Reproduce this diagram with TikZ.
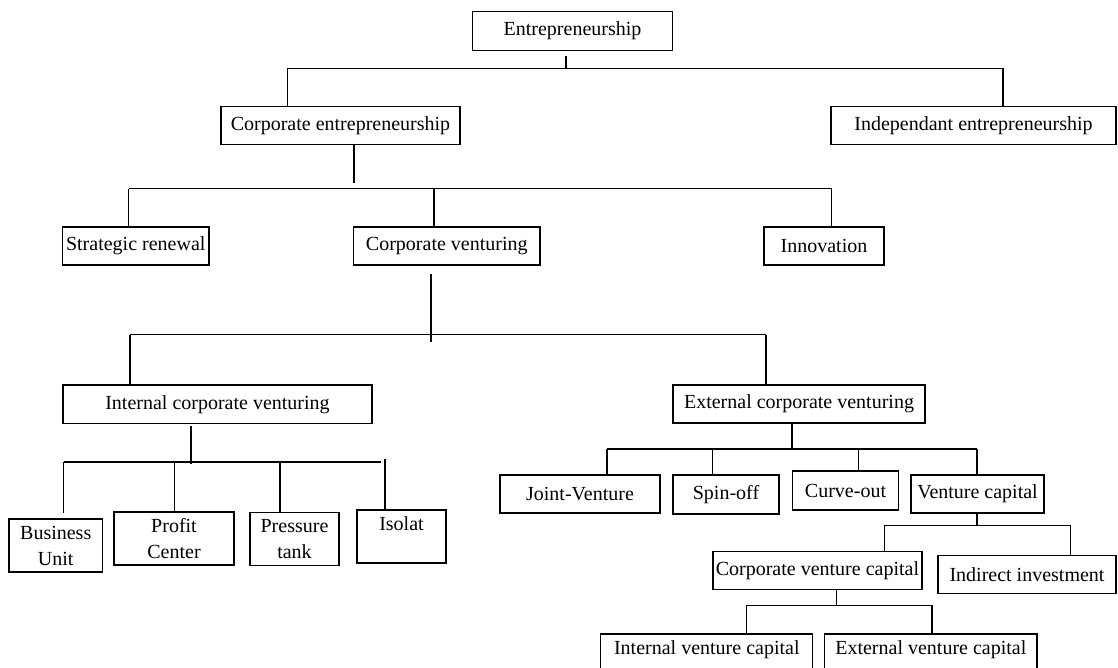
\documentclass[tikz,border=0pt]{standalone}
\usepackage{fontspec}
\setmainfont{Liberation Serif}
\usepackage{tikz}

\tikzset{
  box/.style 2 args={draw, line width=1.2pt, inner sep=0pt, align=center,
    minimum width=#1pt, minimum height=#2pt, font=\fontsize{20}{26}\selectfont},
  link/.style={line width=1.2pt}
}

\begin{document}
\begin{tikzpicture}[x=1pt,y=-1pt]
\useasboundingbox (0,0) rectangle (1118,668);
\clip (0,0) rectangle (1118,668);

\node[box={200}{38.6}] (ent) at (572.5,31) {Entrepreneurship};
\node[box={239}{38}] (ce) at (340.5,125.7) {Corporate entrepreneurship};
\node[box={285}{38}] (ie) at (973.5,125.3) {Independant entrepreneurship};

\node[box={146.5}{38}] (sr) at (135.75,246) {Strategic renewal};
\node[box={186.4}{38}] (cv) at (446.8,246) {Corporate venturing};
\node[box={120}{38}] (inn) at (824,246) {Innovation};

\node[box={309}{38.7}] (icv) at (217.5,404.3) {Internal corporate venturing};
\node[box={252}{38}] (ecv) at (799,404) {External corporate venturing};

\node[box={93.5}{53}] (bu) at (55.75,545.5) {Business\\Unit};
\node[box={120}{53}] (pc) at (174,538.5) {Profit\\Center};
\node[box={89}{53}] (pt) at (294.5,539) {Pressure\\tank};
\node[box={89}{53}] (iso) at (401.5,536.5) {Isolat\\\mbox{}};

\node[box={160}{38}] (jv) at (580,494) {Joint-Venture};
\node[box={106}{39}] (so) at (726,494.5) {Spin-off};
\node[box={106}{39}] (co) at (845.5,490.5) {Curve-out};
\node[box={133}{38}] (vc) at (977.5,494) {Venture capital};

\node[box={209}{38}] (cvc) at (817.4,570.7) {Corporate venture capital};
\node[box={178}{37.5}] (ii) at (1027,574.4) {Indirect investment};

\node[box={212}{53}] (ivc) at (706.8,660.5) {Internal venture capital\\\mbox{}};
\node[box={212.4}{53}] (evc) at (930.8,660.5) {External venture capital\\\mbox{}};

% level 1
\coordinate (e1) at (566,56);
\coordinate (b1a) at (287.5,68.3);
\coordinate (b1b) at (1003,68.3);
\draw[link] (e1) -- (e1 |- b1a);
\draw[link] (b1a) -- (b1b);
\draw[link] (b1a) -- (b1a |- ce.north);
\draw[link] (b1b) -- (b1b |- ie.north);

% level 2
\coordinate (c1) at (354,183);
\coordinate (b2a) at (128.6,188.7);
\coordinate (b2b) at (434,188.7);
\coordinate (b2c) at (831.5,188.7);
\draw[link] (ce.south -| c1) -- (c1);
\draw[link] (b2a) -- (b2c);
\draw[link] (b2a) -- (b2a |- sr.north);
\draw[link] (b2b) -- (b2b |- cv.north);
\draw[link] (b2c) -- (b2c |- inn.north);

% level 3
\coordinate (v1) at (431,274);
\coordinate (v2) at (431,342);
\coordinate (b3a) at (130,334.5);
\coordinate (b3b) at (766,334.5);
\draw[link] (v1) -- (v2);
\draw[link] (b3a) -- (b3b);
\draw[link] (b3a) -- (b3a |- icv.north);
\draw[link] (b3b) -- (b3b |- ecv.north);

% internal side
\coordinate (w1) at (191,426);
\coordinate (w2) at (191,464);
\coordinate (b4a) at (63.6,462);
\coordinate (b4b) at (174.6,462);
\coordinate (b4c) at (280,462);
\coordinate (b4d) at (381,462);
\coordinate (u1) at (63.6,513);
\coordinate (i1) at (385,459);
\draw[link] (w1) -- (w2);
\draw[link] (b4a) -- (b4d);
\draw[link] (b4a) -- (u1);
\draw[link] (b4b) -- (b4b |- pc.north);
\draw[link] (b4c) -- (b4c |- pt.north);
\draw[link] (i1) -- (i1 |- iso.north);

% external side
\coordinate (x5) at (792,449);
\coordinate (b5a) at (607,449);
\coordinate (b5b) at (712.7,449);
\coordinate (b5c) at (858.8,449);
\coordinate (b5d) at (977,449);
\draw[link] (ecv.south -| x5) -- (x5);
\draw[link] (b5a) -- (b5d);
\draw[link] (b5a) -- (b5a |- jv.north);
\draw[link] (b5b) -- (b5b |- so.north);
\draw[link] (b5c) -- (b5c |- co.north);
\draw[link] (b5d) -- (b5d |- vc.north);

% venture capital
\coordinate (b6a) at (884.8,525.3);
\coordinate (b6b) at (1070.7,525.3);
\draw[link] (vc.south -| b5d) -- (b5d |- b6a);
\draw[link] (b6a) -- (b6b);
\draw[link] (b6a) -- (b6a |- cvc.north);
\draw[link] (b6b) -- (b6b |- ii.north);

\coordinate (m7) at (836.8,605.3);
\coordinate (b7a) at (746.5,605.3);
\coordinate (b7b) at (932,605.3);
\draw[link] (cvc.south -| m7) -- (m7);
\draw[link] (b7a) -- (b7b);
\draw[link] (b7a) -- (b7a |- ivc.north);
\draw[link] (b7b) -- (b7b |- evc.north);
\end{tikzpicture}
\end{document}
